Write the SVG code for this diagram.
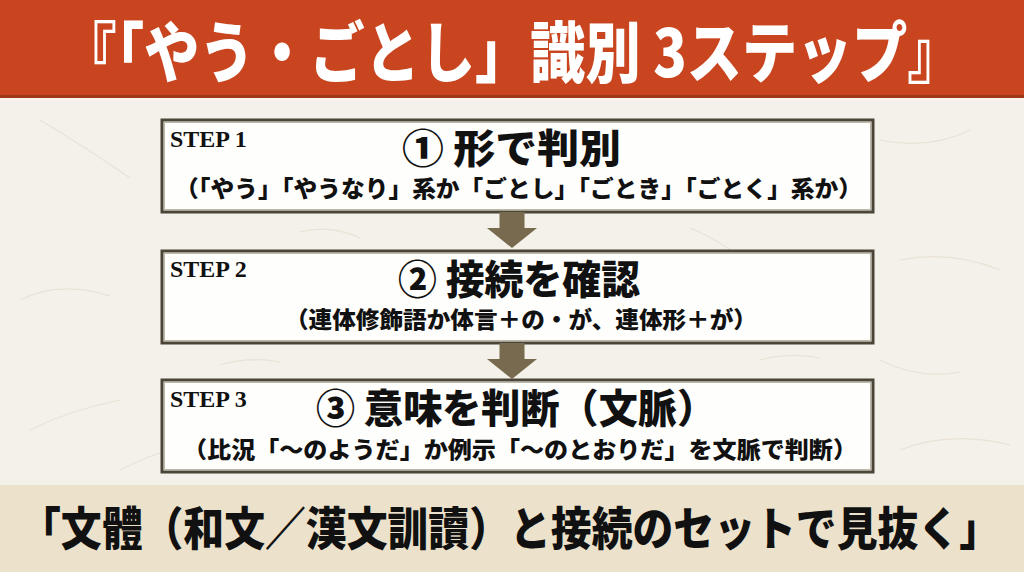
<svg xmlns="http://www.w3.org/2000/svg" xmlns:xlink="http://www.w3.org/1999/xlink" width="1024" height="572" viewBox="0 0 1024 572">
  <style>
    .jp { font-family: "Noto Sans CJK JP", "Noto Sans CJK SC", sans-serif; font-weight: 900; }
    .step { font-family: "Liberation Serif", serif; font-weight: bold; font-size: 24px; fill: #111; }
    .head { font-size: 40px; fill: #111; }
    .sub { font-size: 23px; fill: #111; }
    .box { fill: #fefefc; stroke: #4a4536; stroke-width: 3; }
    .boxin { fill: none; stroke: #bdb7a6; stroke-width: 1; }
    .fiber { fill: none; stroke: #e0d6c4; stroke-width: 1.2; opacity: 0.55; }
    .arrow { fill: #776a4e; }
  </style>
  <defs>
    <path id="arrowShape" d="M -12.5 0 L 12.5 0 L 12.5 16 L 25 16 L 0 36 L -25 16 L -12.5 16 Z"/>
  </defs>

  <!-- paper background -->
  <rect x="0" y="0" width="1024" height="572" fill="#f4f1ea"/>
  <g id="paper-texture">
    <path class="fiber" d="M 40 120 Q 90 150 130 178"/>
    <path class="fiber" d="M 20 300 Q 60 280 110 296"/>
    <path class="fiber" d="M 30 430 Q 70 410 120 400"/>
    <path class="fiber" d="M 300 232 Q 330 224 360 238"/>
    <path class="fiber" d="M 690 228 Q 720 240 740 258"/>
    <path class="fiber" d="M 880 140 Q 930 150 970 130"/>
    <path class="fiber" d="M 900 260 Q 950 250 1000 270"/>
    <path class="fiber" d="M 880 360 Q 920 380 960 372"/>
    <path class="fiber" d="M 900 450 Q 950 430 1010 445"/>
    <path class="fiber" d="M 220 365 Q 250 356 280 362"/>
    <path class="fiber" d="M 760 360 Q 790 352 820 358"/>
    <path class="fiber" d="M 120 470 Q 150 455 175 448"/>
  </g>

  <!-- title band -->
  <g id="title">
    <rect x="0" y="0" width="1024" height="97" fill="#c9451f"/>
    <rect x="0" y="95" width="1024" height="3" fill="#9c3818"/>
    <rect x="0" y="98" width="1024" height="2" fill="#fbf3ea"/>
    <text class="jp" transform="translate(512,77) scale(1,1.14)" x="0" y="0" font-size="58" fill="#ffffff" text-anchor="middle" textLength="901" lengthAdjust="spacingAndGlyphs">『「やう・ごとし」識別 3ステップ』</text>
  </g>

  <!-- step 1 -->
  <g id="step1">
    <rect class="box" x="162" y="120" width="711" height="92"/>
    <rect class="boxin" x="164.5" y="122.5" width="706" height="87"/>
    <text class="step" x="170" y="147">STEP 1</text>
    <text class="jp head" x="511.5" y="163" text-anchor="middle" textLength="219" lengthAdjust="spacingAndGlyphs">① 形で判別</text>
    <text class="jp sub" x="518.5" y="197" text-anchor="middle" textLength="687" lengthAdjust="spacingAndGlyphs">（「やう」「やうなり」系か「ごとし」「ごとき」「ごとく」系か）</text>
  </g>

  <!-- step 2 -->
  <g id="step2">
    <rect class="box" x="162" y="251" width="711" height="92"/>
    <rect class="boxin" x="164.5" y="253.5" width="706" height="87"/>
    <text class="step" x="170" y="277">STEP 2</text>
    <text class="jp head" x="519" y="294" text-anchor="middle" textLength="242" lengthAdjust="spacingAndGlyphs">② 接続を確認</text>
    <text class="jp sub" x="521" y="328" text-anchor="middle" textLength="472" lengthAdjust="spacingAndGlyphs">（連体修飾語か体言＋の・が、連体形＋が）</text>
  </g>

  <!-- step 3 -->
  <g id="step3">
    <rect class="box" x="162" y="380" width="711" height="92"/>
    <rect class="boxin" x="164.5" y="382.5" width="706" height="87"/>
    <text class="step" x="170" y="407">STEP 3</text>
    <text class="jp head" x="516" y="423" text-anchor="middle" textLength="400" lengthAdjust="spacingAndGlyphs">③ 意味を判断（文脈）</text>
    <text class="jp sub" x="520" y="458" text-anchor="middle" textLength="674" lengthAdjust="spacingAndGlyphs">（比況「〜のようだ」か例示「〜のとおりだ」を文脈で判断）</text>
  </g>

  <!-- connectors -->
  <g id="connectors">
    <use xlink:href="#arrowShape" href="#arrowShape" class="arrow" transform="translate(512,212)"/>
    <use xlink:href="#arrowShape" href="#arrowShape" class="arrow" transform="translate(512,343)"/>
  </g>

  <!-- footer band -->
  <g id="footer">
    <rect x="0" y="485" width="1024" height="87" fill="#ece2cc"/>
    <text class="jp" transform="translate(510,545) scale(1,1.15)" x="0" y="0" font-size="40" fill="#111" text-anchor="middle" textLength="980" lengthAdjust="spacingAndGlyphs">「文體（和文／漢文訓讀）と接続のセットで見抜く」</text>
  </g>
</svg>
